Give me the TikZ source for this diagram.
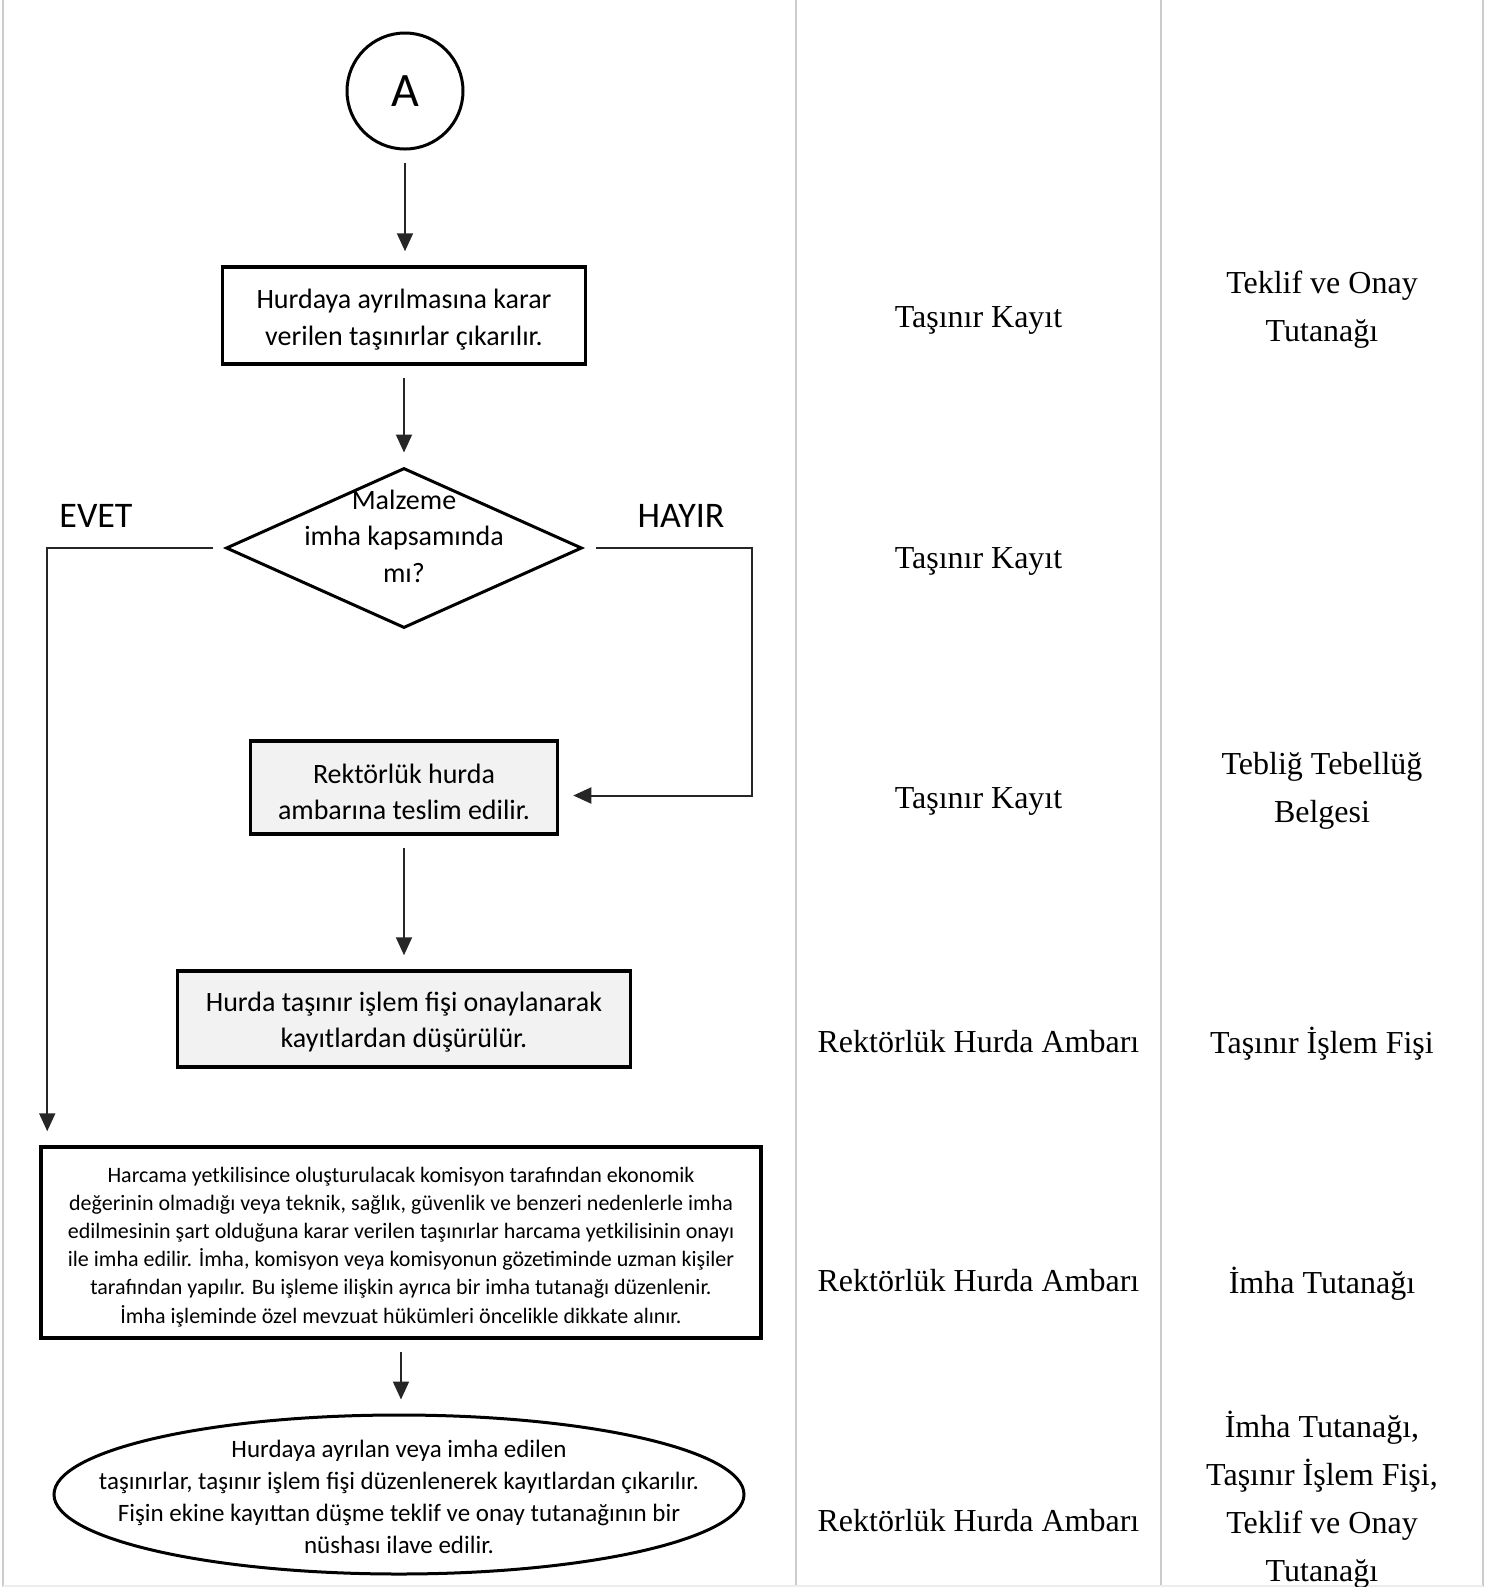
\documentclass[tikz,border=0pt]{standalone}
\usepackage{fontspec}
\setmainfont{Liberation Serif}
\newfontfamily\calfont{Carlito}
\usetikzlibrary{shapes.geometric,arrows.meta}

\newcommand{\boxfont}{\calfont\fontsize{14}{18.2}\selectfont}
\newcommand{\smallboxfont}{\calfont\fontsize{11}{14.1}\selectfont}
\newcommand{\cellfont}{\fontsize{16}{24}\selectfont}
\newcommand{\toppad}[1]{\rule{0pt}{#1}}

\begin{document}
\begin{tikzpicture}[x=0.5pt,y=-0.5pt,
	box/.style={draw, line width=1.75pt, font=\boxfont, align=center, inner sep=0pt},
	greybox/.style={box, fill=black!5},
	flow/.style={draw=black!85, line width=1pt, -{Triangle[length=9pt,width=8pt]}, shorten <=6pt, shorten >=7pt},
	cell/.style={font=\cellfont, align=center, yshift=-1.5pt},
	rule/.style={draw=black!20, line width=1pt}]

	\useasboundingbox (0,0) rectangle (1493,1587);

	% table rules
	\draw[rule] (3,0) -- (3,1587);
	\draw[rule] (796,0) -- (796,1587);
	\draw[rule] (1161,0) -- (1161,1587);
	\draw[rule] (1483,0) -- (1483,1587);
	\draw[draw=black!7, line width=1pt] (3,1586) -- (1483,1586);

	% flow chart
	\node[circle, draw, line width=1.5pt, minimum size=58pt, inner sep=0pt, font=\calfont\fontsize{24}{28}\selectfont] (A) at (405,91) {A};
	\node[box, minimum width=181.5pt, minimum height=48.5pt] (cikar) at (404,315.5) {\toppad{14pt}Hurdaya ayrılmasına karar\\verilen taşınırlar çıkarılır.};
	\node[diamond, draw, line width=1.5pt, minimum width=178pt, minimum height=80pt, inner sep=0pt] (soru) at (404,548) {};
	\node[font=\boxfont, align=center] (soruyazi) at ([yshift=6pt]soru.center) {Malzeme\\imha kapsamında\\mı?};
	\node[greybox, minimum width=153.5pt, minimum height=46.5pt] (ambar) at (404,787.5) {\toppad{14pt}Rektörlük hurda\\ambarına teslim edilir.};
	\node[greybox, minimum width=226.5pt, minimum height=48pt] (fis) at (404,1019) {\toppad{13pt}Hurda taşınır işlem fişi onaylanarak\\kayıtlardan düşürülür.};
	\node[box, minimum width=360pt, minimum height=95.5pt, font=\smallboxfont] (imha) at (401,1242.5) {\toppad{12pt}Harcama yetkilisince oluşturulacak komisyon tarafından ekonomik\\değerinin olmadığı veya teknik, sağlık, güvenlik ve benzeri nedenlerle imha\\edilmesinin şart olduğuna karar verilen taşınırlar harcama yetkilisinin onayı\\ile imha edilir. İmha, komisyon veya komisyonun gözetiminde uzman kişiler\\tarafından yapılır. Bu işleme ilişkin ayrıca bir imha tutanağı düzenlenir.\\İmha işleminde özel mevzuat hükümleri öncelikle dikkate alınır.};
	\node[ellipse, draw, line width=1.5pt, minimum width=345pt, minimum height=79.5pt, inner sep=0pt] (son) at (399,1494.5) {};
	\node[font=\calfont\fontsize{12.5}{16}\selectfont, align=center] (sonyazi) at ([yshift=-1pt]son.center) {Hurdaya ayrılan veya imha edilen\\taşınırlar, taşınır işlem fişi düzenlenerek kayıtlardan çıkarılır.\\Fişin ekine kayıttan düşme teklif ve onay tutanağının bir\\nüshası ilave edilir.};

	\node[font=\calfont\fontsize{18}{22}\selectfont] (evet) at (96,516) {EVET};
	\node[font=\calfont\fontsize{18}{22}\selectfont] (hayir) at (681,516) {HAYIR};

	\draw[flow] (A.south) -- (A.south |- cikar.north);
	\draw[flow] (cikar.south) -- (soru.north);
	\draw[flow] (ambar.south) -- (fis.north);
	\draw[flow] (imha.south) -- (imha.south |- son.north);
	\draw[flow] (soru.west) -| ([xshift=4pt]imha.north west);
	\draw[flow] (soru.east) -- ++(168,0) |- ([yshift=-4pt]ambar.east);

	% right columns
	\node[cell] (kayit1) at (978.5,317) {Taşınır Kayıt};
	\node[cell] (belge1) at (1322,307) {Teklif ve Onay\\Tutanağı};
	\node[cell] (kayit2) at (978.5,558) {Taşınır Kayıt};
	\node[cell] (kayit3) at (978.5,798) {Taşınır Kayıt};
	\node[cell] (belge3) at (1322,787.5) {Tebliğ Tebellüğ\\Belgesi};
	\node[cell] (kayit4) at (978.5,1039) {Rektörlük Hurda Ambarı};
	\node[cell] (belge4) at (1322,1041) {Taşınır İşlem Fişi};
	\node[cell] (kayit5) at (978.5,1278) {Rektörlük Hurda Ambarı};
	\node[cell] (belge5) at (1322,1281) {İmha Tutanağı};
	\node[cell] (kayit6) at (978.5,1518) {Rektörlük Hurda Ambarı};
	\node[cell] (belge6) at (1322,1497) {İmha Tutanağı,\\Taşınır İşlem Fişi,\\Teklif ve Onay\\Tutanağı};
\end{tikzpicture}
\end{document}
